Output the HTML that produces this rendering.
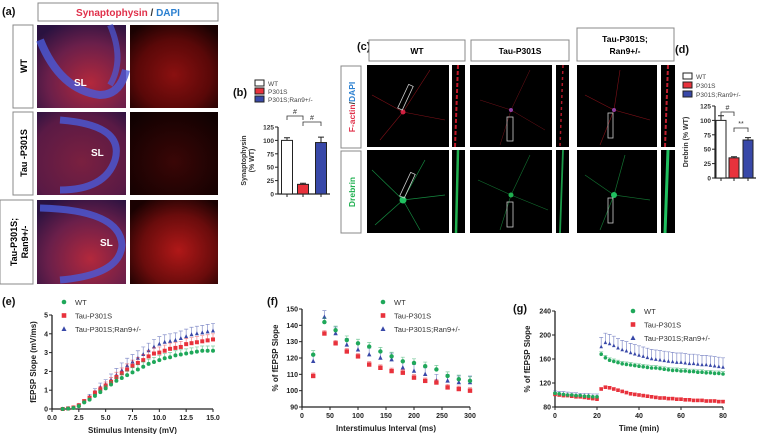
<!DOCTYPE html>
<html><head><meta charset="utf-8">
<style>
html,body{margin:0;padding:0;background:#fff;}
svg{display:block;font-family:"Liberation Sans",Arial,sans-serif;}
.t{font-size:7px;font-weight:bold;fill:#222;}
.lab{font-size:11px;font-weight:bold;fill:#111;}
.leg{font-size:7.5px;fill:#333;}
</style></head>
<body>
<svg id="fig" width="760" height="434" viewBox="0 0 760 434">
<defs>
 <radialGradient id="hipL" cx="0.6" cy="0.7" r="0.8"><stop offset="0" stop-color="#b3283c"/><stop offset="0.6" stop-color="#6a1f4a"/><stop offset="1" stop-color="#2a1240"/></radialGradient>
 <radialGradient id="hipLd" cx="0.5" cy="0.6" r="0.8"><stop offset="0" stop-color="#7a2040"/><stop offset="0.7" stop-color="#5a1a45"/><stop offset="1" stop-color="#2a1240"/></radialGradient>
 <radialGradient id="hipR" cx="0.5" cy="0.6" r="0.7"><stop offset="0" stop-color="#8a1010"/><stop offset="0.6" stop-color="#5a0808"/><stop offset="1" stop-color="#1a0202"/></radialGradient>
 <radialGradient id="hipRd" cx="0.5" cy="0.6" r="0.7"><stop offset="0" stop-color="#3a0606"/><stop offset="1" stop-color="#100101"/></radialGradient>
 <radialGradient id="hipRb" cx="0.55" cy="0.6" r="0.7"><stop offset="0" stop-color="#b01818"/><stop offset="0.6" stop-color="#6a0c0c"/><stop offset="1" stop-color="#1a0202"/></radialGradient>
</defs>

<!-- Panel a -->
<text class="lab" x="2" y="15">(a)</text>
<rect x="38" y="3" width="180" height="18" fill="#fff" stroke="#888"/>
<text x="128" y="16" text-anchor="middle" font-size="10" font-weight="bold"><tspan fill="#e0304a">Synaptophysin</tspan><tspan fill="#333"> / </tspan><tspan fill="#2a7fd0">DAPI</tspan></text>
<g>
 <rect x="13" y="25" width="20" height="83" fill="#fff" stroke="#888"/>
 <text transform="translate(27,66) rotate(-90)" text-anchor="middle" font-size="9" font-weight="bold">WT</text>
 <rect x="13" y="112" width="20" height="83" fill="#fff" stroke="#888"/>
 <text transform="translate(27,153) rotate(-90)" text-anchor="middle" font-size="9" font-weight="bold">Tau -P301S</text>
 <rect x="0" y="200" width="33" height="84" fill="#fff" stroke="#888"/>
 <text transform="translate(17,242) rotate(-90)" text-anchor="middle" font-size="9" font-weight="bold">Tau-P301S;</text>
 <text transform="translate(28,242) rotate(-90)" text-anchor="middle" font-size="9" font-weight="bold">Ran9+/-</text>
</g>
<g>
 <rect x="37" y="25" width="89" height="83" fill="url(#hipL)"/>
 <path d="M40,40 Q60,90 100,95 Q120,95 126,70" stroke="#4a5ad8" stroke-width="8" fill="none" opacity="0.8"/>
 <path d="M110,25 Q125,60 110,85" stroke="#4a5ad8" stroke-width="6" fill="none" opacity="0.7"/>
 <text x="74" y="86" fill="#fff" font-size="10" font-weight="bold">SL</text>
 <rect x="130" y="25" width="88" height="83" fill="url(#hipR)"/>
 <rect x="37" y="112" width="89" height="83" fill="url(#hipLd)"/>
 <path d="M60,120 Q125,125 115,160 Q105,190 60,190" stroke="#4a5ad8" stroke-width="7" fill="none" opacity="0.8"/>
 <text x="91" y="156" fill="#fff" font-size="10" font-weight="bold">SL</text>
 <rect x="130" y="112" width="88" height="83" fill="url(#hipRd)"/>
 <rect x="37" y="200" width="89" height="84" fill="url(#hipL)"/>
 <path d="M40,208 Q120,210 122,245 Q120,275 60,280" stroke="#4a5ad8" stroke-width="7" fill="none" opacity="0.8"/>
 <text x="100" y="246" fill="#fff" font-size="10" font-weight="bold">SL</text>
 <rect x="130" y="200" width="88" height="84" fill="url(#hipRb)"/>
</g>

<!-- Panel b -->
<text class="lab" x="233" y="96">(b)</text>
<g id="chartB"></g>

<!-- Panel c -->
<text class="lab" x="357" y="50">(c)</text>
<g>
 <rect x="369" y="40" width="96" height="21" fill="#fff" stroke="#888"/>
 <text x="417" y="54" text-anchor="middle" font-size="8.5" font-weight="bold">WT</text>
 <rect x="471" y="40" width="98" height="21" fill="#fff" stroke="#888"/>
 <text x="520" y="54" text-anchor="middle" font-size="8.5" font-weight="bold">Tau-P301S</text>
 <rect x="577" y="28" width="97" height="33" fill="#fff" stroke="#888"/>
 <text x="625" y="42" text-anchor="middle" font-size="8.5" font-weight="bold">Tau-P301S;</text>
 <text x="625" y="54" text-anchor="middle" font-size="8.5" font-weight="bold">Ran9+/-</text>
 <rect x="341" y="66" width="20" height="82" fill="#fff" stroke="#888"/>
 <text transform="translate(355,107) rotate(-90)" text-anchor="middle" font-size="8.5" font-weight="bold"><tspan fill="#e0304a">F-actin</tspan><tspan fill="#333">/</tspan><tspan fill="#2a7fd0">DAPI</tspan></text>
 <rect x="341" y="151" width="20" height="82" fill="#fff" stroke="#888"/>
 <text transform="translate(355,192) rotate(-90)" text-anchor="middle" font-size="8.5" font-weight="bold" fill="#20b050">Drebrin</text>
</g>
<g>
 <rect x="367" y="65" width="82" height="82" fill="#000"/>
 <path d="M403,112 L430,70 M403,112 L380,140 M403,112 L445,120 M403,112 L372,95" stroke="#801018" stroke-width="0.6"/>
 <circle cx="403" cy="112" r="2.5" fill="#d02040"/>
 <rect x="403" y="84" width="5" height="26" transform="rotate(25 405 97)" fill="none" stroke="#ccc" stroke-width="0.8"/>
 <rect x="452" y="65" width="13" height="82" fill="#000"/><path d="M458,65 L455,147" stroke="#c01828" stroke-width="2" stroke-dasharray="4 2"/>
 <rect x="470" y="65" width="82" height="82" fill="#000"/>
 <path d="M511,110 L530,70 M511,110 L480,100 M511,110 L545,130 M511,110 L500,145" stroke="#701018" stroke-width="0.5"/>
 <circle cx="511" cy="110" r="2" fill="#9040a0"/>
 <rect x="507" y="117" width="6" height="24" fill="none" stroke="#ccc" stroke-width="0.8"/>
 <rect x="556" y="65" width="13" height="82" fill="#000"/><path d="M563,65 L560,147" stroke="#b01828" stroke-width="1.5" stroke-dasharray="3 3"/>
 <rect x="577" y="65" width="80" height="82" fill="#000"/>
 <path d="M614,110 L620,70 M614,110 L585,95 M614,110 L650,120 M614,110 L600,145" stroke="#801018" stroke-width="0.6"/>
 <circle cx="614" cy="110" r="2" fill="#9040a0"/>
 <rect x="608" y="113" width="5" height="25" fill="none" stroke="#ccc" stroke-width="0.8"/>
 <rect x="661" y="65" width="14" height="82" fill="#000"/><path d="M668,65 L665,147" stroke="#c02030" stroke-width="2" stroke-dasharray="4 2"/>
 <rect x="367" y="150" width="82" height="83" fill="#000"/>
 <path d="M403,200 L425,160 M403,200 L375,225 M403,200 L445,195 M403,200 L372,170 M403,200 L420,230" stroke="#158a40" stroke-width="0.7"/>
 <circle cx="403" cy="200" r="3.5" fill="#20c060"/>
 <rect x="405" y="172" width="5" height="26" transform="rotate(25 407 185)" fill="none" stroke="#ccc" stroke-width="0.8"/>
 <rect x="452" y="150" width="13" height="83" fill="#000"/><path d="M458,150 L456,233" stroke="#20b050" stroke-width="2.5"/>
 <rect x="470" y="150" width="82" height="83" fill="#000"/>
 <path d="M511,195 L530,155 M511,195 L478,180 M511,195 L548,210 M511,195 L500,230" stroke="#127030" stroke-width="0.6"/>
 <circle cx="511" cy="195" r="2.5" fill="#20b050"/>
 <rect x="507" y="202" width="6" height="25" fill="none" stroke="#ccc" stroke-width="0.8"/>
 <rect x="556" y="150" width="13" height="83" fill="#000"/><path d="M563,150 L560,233" stroke="#1a9a48" stroke-width="1.8"/>
 <rect x="577" y="150" width="80" height="83" fill="#000"/>
 <path d="M614,195 L625,155 M614,195 L585,175 M614,195 L650,200 M614,195 L600,230" stroke="#127030" stroke-width="0.7"/>
 <circle cx="614" cy="195" r="3" fill="#20c060"/>
 <rect x="608" y="198" width="5" height="25" fill="none" stroke="#ccc" stroke-width="0.8"/>
 <rect x="661" y="150" width="14" height="83" fill="#000"/><path d="M668,150 L665,233" stroke="#20c060" stroke-width="3"/>
</g>

<!-- Panel d -->
<text class="lab" x="675" y="53">(d)</text>
<g id="chartD"></g>

<!-- Line charts -->
<text class="lab" x="2" y="305">(e)</text>
<g id="chartE"></g>
<text class="lab" x="267" y="305">(f)</text>
<g id="chartF"></g>
<text class="lab" x="513" y="312">(g)</text>
<g id="chartG"></g>
</svg>

<script>
// ---- data ----
const barCats = ["WT", "P301S", "P301S;Ran9+/-"];
const synValues = [100, 18, 96];
const synErrors = [5, 2, 10];
const drebValues = [100, 35, 66];
const drebErrors = [8, 2, 4];
const barTicks = [0, 25, 50, 75, 100, 125];

const eX = [1,1.5,2,2.5,3,3.5,4,4.5,5,5.5,6,6.5,7,7.5,8,8.5,9,9.5,10,10.5,11,11.5,12,12.5,13,13.5,14,14.5,15];
const eWT = [0,0.02,0.05,0.15,0.35,0.5,0.7,0.9,1.1,1.3,1.5,1.65,1.8,1.95,2.1,2.25,2.4,2.5,2.6,2.7,2.75,2.85,2.9,2.95,3.0,3.05,3.1,3.1,3.1];
const eTau = [0,0.03,0.08,0.2,0.42,0.6,0.85,1.05,1.25,1.45,1.7,1.9,2.1,2.3,2.45,2.6,2.8,2.95,3.0,3.1,3.2,3.25,3.3,3.45,3.5,3.55,3.6,3.65,3.7];
const eRan = [0,0.03,0.07,0.2,0.4,0.65,0.9,1.15,1.3,1.55,1.8,2.05,2.3,2.5,2.7,2.9,3.1,3.3,3.45,3.55,3.6,3.65,3.75,3.85,3.95,4.0,4.05,4.1,4.15];
const eTicksX = [0,2.5,5,7.5,10,12.5,15];
const eTicksY = [0,1,2,3,4,5];

const fX = [20,40,60,80,100,120,140,160,180,200,220,240,260,280,300];
const fWT = [122,142,137,131,129,127,124,121,118,117,115,113,109,107,106];
const fTau = [109,135,129,124,121,116,114,112,111,108,106,105,102,101,100];
const fRan = [118,145,135,128,125,122,120,119,114,112,110,106,106,105,105];
const fTicksX = [0,50,100,150,200,250,300];
const fTicksY = [90,100,110,120,130,140,150];

const gX = [0,2,4,6,8,10,12,14,16,18,20,22,24,26,28,30,32,34,36,38,40,42,44,46,48,50,52,54,56,58,60,62,64,66,68,70,72,74,76,78,80];
const gWT = [103,102,101,100,100,99,99,98,98,97,97,168,162,158,156,154,152,151,150,149,148,147,146,145,145,144,143,142,141,141,140,140,139,139,138,138,137,137,136,136,135];
const gTau = [101,100,99,99,98,97,97,96,95,94,93,110,113,112,110,108,106,104,102,101,100,99,98,97,96,95,95,94,94,93,93,92,92,91,91,91,90,90,90,89,89];
const gRan = [102,101,101,100,99,99,98,98,98,97,97,180,187,185,182,178,175,173,170,168,166,164,162,160,159,158,157,156,155,154,154,153,152,152,151,150,150,149,148,147,146];
const gTicksX = [0,20,40,60,80];
const gTicksY = [80,120,160,200,240];

const legendNames = ["WT","Tau-P301S","Tau-P301S;Ran9+/-"];
</script>
<script>
const NS = "http://www.w3.org/2000/svg";
function mk(parent, tag, attrs, text) {
  const el = document.createElementNS(NS, tag);
  for (const k in attrs) el.setAttribute(k, attrs[k]);
  if (text !== undefined) el.textContent = text;
  parent.appendChild(el);
  return el;
}
const GREEN="#1fa85a", RED="#e8323c", BLUE="#3848a8";

function barChart(gid, vals, errs, o) {
  const g = document.getElementById(gid);
  const ys = v => o.y0 - (v/125)*(o.y0-o.y1);
  const fills = ["#fff", RED, BLUE];
  barCats.forEach((c,i) => {
    const r = mk(g,"rect",{x:o.lx,y:o.ly+i*o.ls,width:9,height:6,fill:fills[i],stroke:"#222","stroke-width":1});
    
    
    const t = mk(g,"text",{x:o.lx+13,y:o.ly+i*o.ls+6,"font-size":6.5,fill:"#444"},c);
    
    
  });
  const ax = mk(g,"path",{d:`M${o.ax},${o.y1} V${o.y0} H${o.ax2}`,stroke:"#222","stroke-width":1.2,fill:"none"});
  
  
  barTicks.forEach(t => {
    mk(g,"line",{x1:o.ax-3,x2:o.ax,y1:ys(t),y2:ys(t),stroke:"#222"});
    const tl = mk(g,"text",{x:o.ax-4,y:ys(t)+2.5,"text-anchor":"end","font-size":6.5,"font-weight":"bold",fill:"#333"},t);
    
    
  });
  vals.forEach((v,i) => {
    const cx = o.cx[i];
    mk(g,"line",{x1:cx,x2:cx,y1:o.y0,y2:o.y0+3,stroke:"#222"});
    const b = mk(g,"rect",{x:cx-o.bw/2,y:ys(v),width:o.bw,height:o.y0-ys(v),fill:fills[i],stroke:"#222","stroke-width":1});
    
    
    const ye = ys(v+errs[i]);
    mk(g,"path",{d:`M${cx},${ys(v)} V${ye} M${cx-3},${ye} H${cx+3}`,stroke:"#222","stroke-width":1});
  });
  o.title.forEach((s,k)=>{
    const yl = mk(g,"text",{transform:`translate(${o.tx+k*8},${(o.y0+o.y1)/2}) rotate(-90)`,"text-anchor":"middle","font-size":7,"font-weight":"bold",fill:"#333"},s);
    
    
  });
  o.sig.forEach(s => {
    const a=o.cx[s[0]], b2=o.cx[s[1]], yy=s[2];
    mk(g,"path",{d:`M${a},${yy+4} V${yy} H${b2} V${yy+4}`,stroke:"#333","stroke-width":0.8,fill:"none"});
    mk(g,"text",{x:(a+b2)/2,y:yy-2,"text-anchor":"middle","font-size":7,fill:"#333"},s[3]);
  });
}
barChart("chartB", synValues, synErrors, {lx:255,ly:80,ls:8,ax:278,ax2:330,y0:194,y1:127,cx:[287,303,321],bw:11,tx:246,title:["Synaptophysin","(% WT)"],sig:[[0,1,116,"#"],[1,2,122,"#"]]});
barChart("chartD", drebValues, drebErrors, {lx:683,ly:73,ls:9,ax:715,ax2:756,y0:178,y1:106,cx:[721,734,748],bw:10,tx:688,title:["Drebrin (% WT)"],sig:[[0,1,112,"#"],[1,2,128,"**"]]});

function lineChart(gid, xs, series, errs, o) {
  const g = document.getElementById(gid);
  const sx = v => o.x0 + (v-o.xmin)/(o.xmax-o.xmin)*(o.x1-o.x0);
  const sy = v => o.y0 - (v-o.ymin)/(o.ymax-o.ymin)*(o.y0-o.y1);
  const ax = mk(g,"path",{d:`M${o.x0},${o.y1} V${o.y0} H${o.x1}`,stroke:"#222","stroke-width":1.3,fill:"none"});
  
  
  o.tx.forEach(t => {
    mk(g,"line",{x1:sx(t),x2:sx(t),y1:o.y0,y2:o.y0+3,stroke:"#222"});
    const tl = mk(g,"text",{x:sx(t),y:o.y0+11,"text-anchor":"middle",class:"t"},o.fmt?o.fmt(t):t);
    
    
  });
  o.ty.forEach(t => {
    mk(g,"line",{x1:o.x0-3,x2:o.x0,y1:sy(t),y2:sy(t),stroke:"#222"});
    const tl = mk(g,"text",{x:o.x0-4,y:sy(t)+2.5,"text-anchor":"end",class:"t"},t);
    
    
  });
  const xt = mk(g,"text",{x:(o.x0+o.x1)/2,y:o.y0+24,"text-anchor":"middle","font-size":8,"font-weight":"bold",fill:"#222"},o.xtitle);
  
  
  const yt = mk(g,"text",{transform:`translate(${o.ytx},${(o.y0+o.y1)/2}) rotate(-90)`,"text-anchor":"middle","font-size":8,"font-weight":"bold",fill:"#222"},o.ytitle);
  
  
  const cols=[GREEN,RED,BLUE];
  const order=[2,1,0];
  order.forEach(si => {
    const s = series[si], col = cols[si];
    const grp = mk(g,"g",{});
    
    
    s.forEach((v,i) => {
      const x=sx(xs[i]), y=sy(v), e=errs[si];
      const es = o.errScale?o.errScale(xs[i],v):1;
      if (e>0) mk(grp,"path",{d:`M${x},${y} V${sy(v+e*es)} M${x-2},${sy(v+e*es)} H${x+2}`,stroke:col,"stroke-width":0.7,opacity:0.6});
      const r=o.ms;
      let m;
      if (si===0) m=mk(grp,"circle",{cx:x,cy:y,r:r,fill:col});
      else if (si===1) m=mk(grp,"rect",{x:x-r,y:y-r,width:2*r,height:2*r,fill:col});
      else m=mk(grp,"path",{d:`M${x},${y-r-0.5} L${x+r},${y+r-0.5} L${x-r},${y+r-0.5}Z`,fill:col});
      
      
    });
  });
  legendNames.forEach((n,i) => {
    const x=o.lx, y=o.ly+i*13.5, col=cols[i];
    if (i===0) mk(g,"circle",{cx:x,cy:y,r:2.3,fill:col});
    else if (i===1) mk(g,"rect",{x:x-2.3,y:y-2.3,width:4.6,height:4.6,fill:col});
    else mk(g,"path",{d:`M${x},${y-2.8} L${x+2.5},${y+2} L${x-2.5},${y+2}Z`,fill:col});
    const t = mk(g,"text",{x:x+11,y:y+3,class:"leg"},n);
    
    
  });
}
lineChart("chartE", eX, [eWT,eTau,eRan], [0.25,0.3,0.4], {x0:52,x1:213,y0:409,y1:315,xmin:0,xmax:15,ymin:0,ymax:5,tx:eTicksX,ty:eTicksY,fmt:t=>t.toFixed(1),xtitle:"Stimulus Intensity (mV)",ytitle:"fEPSP Slope (mV/ms)",ytx:36,lx:64,ly:302,ms:2,errScale:(x,v)=>Math.min(1,v/2)});
lineChart("chartF", fX, [fWT,fTau,fRan], [2.5,1.8,4], {x0:302,x1:470,y0:407,y1:309,xmin:0,xmax:300,ymin:90,ymax:150,tx:fTicksX,ty:fTicksY,xtitle:"Interstimulus Interval (ms)",ytitle:"% of fEPSP Slope",ytx:278,lx:383,ly:302,ms:2.2});
lineChart("chartG", gX, [gWT,gTau,gRan], [4,2,16], {x0:555,x1:723,y0:407,y1:311,xmin:0,xmax:80,ymin:80,ymax:240,tx:gTicksX,ty:gTicksY,xtitle:"Time (min)",ytitle:"% of fEPSP Slope",ytx:530,lx:633,ly:311,ms:1.8,errScale:(x,v)=>x<21?0.3:1});
</script>
</body></html>
